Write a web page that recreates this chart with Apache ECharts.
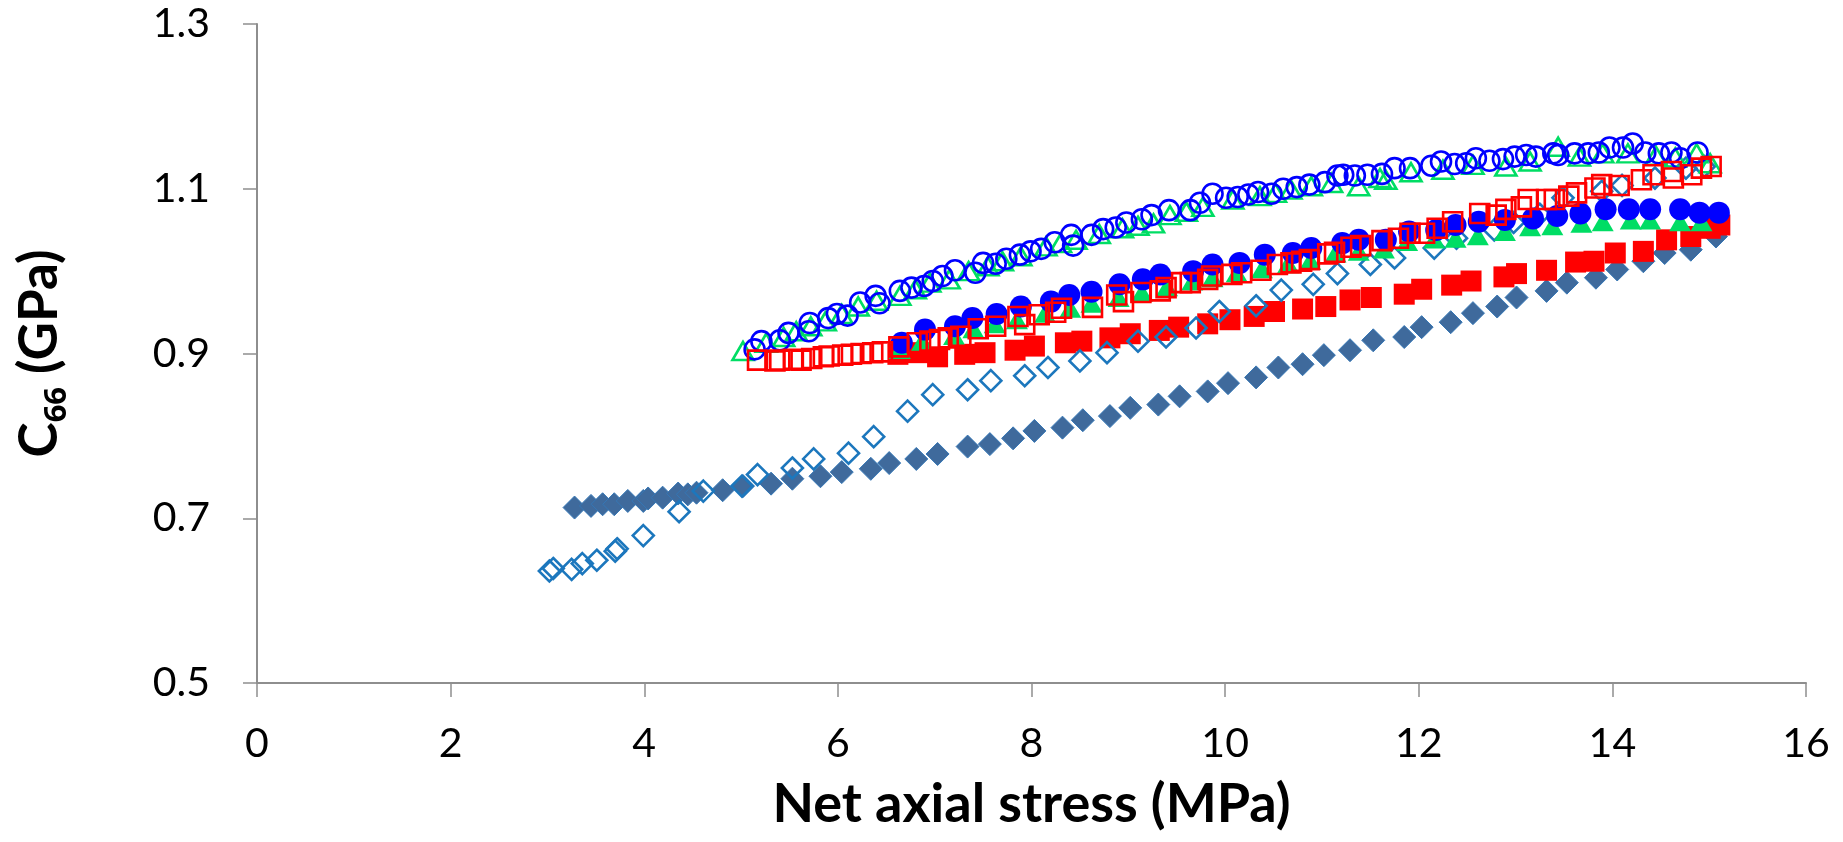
<!DOCTYPE html>
<html>
<head>
<meta charset="utf-8">
<script src="https://cdn.jsdelivr.net/npm/echarts@6/dist/echarts.min.js"></script>
<style>
  html, body { margin: 0; padding: 0; background: #ffffff; }
  #chart { width: 1843px; height: 842px; }
</style>
</head>
<body>
<div id="chart"></div>
<script>
// Axis ticks
const stressTicks = [0, 2, 4, 6, 8, 10, 12, 14, 16];
const c66Ticks = [0.5, 0.7, 0.9, 1.1, 1.3];

// Solid diamonds
const solidDiamondStress = [3.28, 3.45, 3.57, 3.69, 3.83, 3.99, 4.04, 4.19, 4.35, 4.45, 4.54, 4.81, 5.02, 5.31, 5.53, 5.82, 6.04, 6.34, 6.53, 6.81, 7.03, 7.34, 7.57, 7.81, 8.03, 8.32, 8.53, 8.81, 9.02, 9.31, 9.53, 9.82, 10.03, 10.32, 10.55, 10.80, 11.02, 11.29, 11.53, 11.85, 12.03, 12.33, 12.56, 12.81, 13.01, 13.32, 13.53, 13.83, 14.05, 14.32, 14.54, 14.81, 15.07];
const solidDiamondC66 = [0.713, 0.715, 0.717, 0.717, 0.721, 0.721, 0.724, 0.725, 0.730, 0.729, 0.731, 0.734, 0.739, 0.742, 0.748, 0.751, 0.756, 0.760, 0.767, 0.772, 0.778, 0.787, 0.790, 0.797, 0.806, 0.810, 0.819, 0.824, 0.834, 0.838, 0.848, 0.854, 0.864, 0.871, 0.883, 0.887, 0.898, 0.904, 0.916, 0.920, 0.932, 0.938, 0.949, 0.957, 0.968, 0.976, 0.986, 0.992, 1.002, 1.012, 1.022, 1.026, 1.042];

// Open diamonds
const openDiamondStress = [3.02, 3.06, 3.25, 3.36, 3.51, 3.70, 3.72, 3.99, 4.36, 4.61, 5.01, 5.17, 5.53, 5.75, 6.11, 6.37, 6.72, 6.98, 7.34, 7.58, 7.93, 8.17, 8.50, 8.78, 9.10, 9.39, 9.70, 9.94, 10.32, 10.58, 10.91, 11.16, 11.50, 11.75, 12.16, 12.39, 12.78, 12.98, 13.25, 13.49, 13.89, 14.10, 14.44, 14.76, 14.95];
const openDiamondC66 = [0.636, 0.639, 0.638, 0.645, 0.649, 0.660, 0.663, 0.679, 0.708, 0.733, 0.739, 0.753, 0.761, 0.772, 0.779, 0.799, 0.830, 0.850, 0.856, 0.867, 0.873, 0.883, 0.891, 0.901, 0.915, 0.920, 0.931, 0.951, 0.958, 0.977, 0.984, 0.997, 1.008, 1.016, 1.028, 1.040, 1.050, 1.059, 1.069, 1.089, 1.097, 1.104, 1.113, 1.125, 1.127];

// Solid squares
const solidSquareStress = [6.62, 6.83, 7.03, 7.31, 7.52, 7.83, 8.03, 8.35, 8.52, 8.81, 9.02, 9.32, 9.52, 9.82, 10.05, 10.30, 10.51, 10.80, 11.04, 11.29, 11.51, 11.85, 12.03, 12.34, 12.54, 12.88, 13.01, 13.32, 13.62, 13.81, 14.03, 14.32, 14.56, 14.81, 15.01, 15.11];
const solidSquareC66 = [0.899, 0.901, 0.896, 0.899, 0.901, 0.904, 0.909, 0.913, 0.915, 0.919, 0.924, 0.928, 0.932, 0.936, 0.941, 0.945, 0.951, 0.954, 0.957, 0.965, 0.968, 0.972, 0.978, 0.983, 0.988, 0.993, 0.997, 1.001, 1.011, 1.012, 1.022, 1.024, 1.038, 1.042, 1.052, 1.056];

// Open squares
const openSquareStress = [5.17, 5.35, 5.40, 5.54, 5.62, 5.73, 5.85, 5.91, 6.05, 6.14, 6.24, 6.36, 6.46, 6.63, 6.82, 6.95, 7.05, 7.14, 7.27, 7.45, 7.63, 7.86, 7.93, 8.08, 8.25, 8.31, 8.63, 8.88, 8.95, 9.13, 9.33, 9.39, 9.55, 9.64, 9.82, 9.86, 10.07, 10.17, 10.37, 10.54, 10.68, 10.79, 10.87, 11.06, 11.13, 11.30, 11.40, 11.62, 11.79, 11.91, 12.06, 12.19, 12.35, 12.63, 12.80, 12.90, 13.06, 13.13, 13.32, 13.40, 13.55, 13.63, 13.82, 13.89, 14.07, 14.30, 14.42, 14.61, 14.63, 14.82, 14.92, 15.02];
const openSquareC66 = [0.892, 0.891, 0.892, 0.893, 0.892, 0.894, 0.896, 0.897, 0.898, 0.899, 0.900, 0.901, 0.902, 0.908, 0.913, 0.915, 0.917, 0.919, 0.921, 0.930, 0.933, 0.945, 0.935, 0.947, 0.950, 0.955, 0.956, 0.971, 0.963, 0.974, 0.976, 0.980, 0.986, 0.986, 0.990, 0.994, 0.996, 0.998, 1.001, 1.008, 1.010, 1.012, 1.014, 1.021, 1.023, 1.029, 1.031, 1.037, 1.040, 1.046, 1.046, 1.052, 1.060, 1.070, 1.068, 1.075, 1.078, 1.087, 1.087, 1.087, 1.091, 1.095, 1.101, 1.105, 1.104, 1.111, 1.117, 1.121, 1.113, 1.117, 1.125, 1.127];

// Solid circles
const solidCircleStress = [6.66, 6.90, 7.21, 7.39, 7.64, 7.89, 8.20, 8.39, 8.62, 8.91, 9.15, 9.33, 9.67, 9.87, 10.15, 10.41, 10.70, 10.89, 11.21, 11.38, 11.66, 11.90, 12.18, 12.38, 12.62, 12.89, 13.18, 13.43, 13.67, 13.93, 14.17, 14.39, 14.70, 14.90, 15.10];
const solidCircleC66 = [0.913, 0.929, 0.933, 0.943, 0.948, 0.957, 0.963, 0.971, 0.975, 0.984, 0.990, 0.996, 1.000, 1.008, 1.010, 1.020, 1.022, 1.028, 1.034, 1.038, 1.038, 1.048, 1.050, 1.056, 1.060, 1.062, 1.064, 1.067, 1.070, 1.075, 1.075, 1.075, 1.075, 1.071, 1.071];

// Open circles
const openCircleStress = [5.14, 5.21, 5.40, 5.49, 5.70, 5.71, 5.90, 5.99, 6.10, 6.23, 6.39, 6.43, 6.64, 6.76, 6.89, 6.98, 7.08, 7.21, 7.42, 7.50, 7.63, 7.74, 7.88, 7.99, 8.10, 8.24, 8.41, 8.43, 8.62, 8.74, 8.87, 8.98, 9.14, 9.24, 9.42, 9.64, 9.74, 9.87, 10.01, 10.13, 10.24, 10.34, 10.48, 10.60, 10.74, 10.87, 11.03, 11.16, 11.22, 11.34, 11.47, 11.62, 11.75, 11.91, 12.13, 12.23, 12.37, 12.49, 12.59, 12.73, 12.87, 12.99, 13.11, 13.21, 13.39, 13.44, 13.61, 13.75, 13.86, 13.97, 14.11, 14.21, 14.34, 14.48, 14.61, 14.70, 14.88];
const openCircleC66 = [0.905, 0.915, 0.916, 0.925, 0.927, 0.937, 0.943, 0.948, 0.946, 0.962, 0.970, 0.961, 0.976, 0.980, 0.982, 0.988, 0.994, 1.001, 0.998, 1.010, 1.009, 1.015, 1.020, 1.024, 1.027, 1.035, 1.044, 1.031, 1.044, 1.051, 1.053, 1.059, 1.063, 1.068, 1.074, 1.074, 1.083, 1.094, 1.089, 1.090, 1.093, 1.096, 1.094, 1.100, 1.102, 1.105, 1.108, 1.116, 1.117, 1.116, 1.117, 1.118, 1.125, 1.125, 1.128, 1.133, 1.130, 1.131, 1.137, 1.134, 1.136, 1.139, 1.141, 1.139, 1.143, 1.141, 1.143, 1.143, 1.144, 1.150, 1.150, 1.155, 1.144, 1.143, 1.144, 1.137, 1.144];

// Solid triangles
const solidTriangleStress = [6.64, 6.87, 7.20, 7.40, 7.62, 7.85, 8.14, 8.40, 8.62, 8.90, 9.14, 9.40, 9.66, 9.87, 10.12, 10.38, 10.65, 10.88, 11.14, 11.38, 11.64, 11.88, 12.16, 12.38, 12.61, 12.89, 13.15, 13.38, 13.68, 13.90, 14.19, 14.39, 14.70, 14.92];
const solidTriangleC66 = [0.905, 0.915, 0.922, 0.930, 0.936, 0.941, 0.949, 0.955, 0.961, 0.968, 0.974, 0.981, 0.988, 0.992, 0.998, 1.003, 1.009, 1.013, 1.022, 1.024, 1.027, 1.036, 1.039, 1.040, 1.043, 1.048, 1.054, 1.055, 1.058, 1.060, 1.062, 1.062, 1.060, 1.060];

// Open triangles
const openTriangleStress = [5.02, 5.26, 5.44, 5.57, 5.72, 5.87, 6.04, 6.21, 6.40, 6.64, 6.80, 6.95, 7.15, 7.35, 7.55, 7.70, 7.89, 8.15, 8.30, 8.46, 8.70, 8.94, 9.10, 9.26, 9.43, 9.60, 9.77, 10.08, 10.36, 10.52, 10.68, 10.89, 11.10, 11.38, 11.60, 11.66, 11.92, 12.25, 12.56, 12.90, 13.15, 13.44, 13.66, 13.90, 14.16, 14.45, 14.65, 14.87, 15.01];
const openTriangleC66 = [0.903, 0.913, 0.920, 0.927, 0.933, 0.939, 0.948, 0.957, 0.964, 0.970, 0.978, 0.986, 0.990, 1.000, 1.006, 1.012, 1.018, 1.030, 1.034, 1.038, 1.045, 1.052, 1.055, 1.058, 1.068, 1.072, 1.078, 1.087, 1.091, 1.095, 1.099, 1.103, 1.107, 1.103, 1.113, 1.111, 1.120, 1.123, 1.129, 1.127, 1.133, 1.151, 1.139, 1.143, 1.143, 1.140, 1.138, 1.143, 1.131];

function pairs(xs, ys) {
  return xs.map((x, i) => [x, ys[i]]);
}

const axisGrey = '#8e8e8e';
const NONE = 'rgba(0,0,0,0)';

function solid(name, symbol, size, color, xs, ys, border) {
  return {
    name, type: 'scatter', symbol, symbolSize: size,
    data: pairs(xs, ys),
    itemStyle: { color, borderColor: border || color, borderWidth: border ? 1 : 0, opacity: 1 },
    emphasis: { disabled: true }
  };
}
function hollow(name, symbol, size, color, xs, ys) {
  return {
    name, type: 'scatter', symbol, symbolSize: size,
    data: pairs(xs, ys),
    itemStyle: { color: NONE, borderColor: color, borderWidth: 2.6, opacity: 1 },
    emphasis: { disabled: true }
  };
}

const chart = echarts.init(document.getElementById('chart'), null, { renderer: 'canvas' });
chart.setOption({
  animation: false,
  backgroundColor: '#ffffff',
  grid: { left: 257, right: 37, top: 24, bottom: 159, containLabel: false },
  xAxis: {
    type: 'value', min: 0, max: 16, interval: 2,
    name: 'Net axial stress (MPa)',
    nameLocation: 'middle', nameGap: 95,
    nameTextStyle: { fontFamily: 'Lato', fontWeight: 'bold', fontStyle: 'normal', fontSize: 54, color: '#000' },
    axisLine: { show: true, lineStyle: { color: axisGrey, width: 2 } },
    axisTick: { show: true, inside: false, length: 14, customValues: stressTicks, lineStyle: { color: axisGrey, width: 1.5 } },
    axisLabel: { margin: 40, customValues: stressTicks, fontFamily: 'Lato', fontSize: 41, color: '#000' },
    splitLine: { show: false }
  },
  yAxis: {
    type: 'value', min: 0.5, max: 1.3,
    name: '{m|C}{s|66}{m| (GPa)}',
    nameLocation: 'middle', nameGap: 184, nameRotate: 90,
    nameTextStyle: {
      rich: {
        m: { fontFamily: 'Lato', fontWeight: 'bold', fontStyle: 'normal', fontSize: 53, color: '#000', lineHeight: 66, verticalAlign: 'middle' },
        s: { fontFamily: '"Open Sans", "Noto Sans", sans-serif', fontWeight: 'bold', fontStyle: 'normal', fontSize: 31, color: '#000', lineHeight: 33, verticalAlign: 'bottom' }
      }
    },
    axisLine: { show: true, lineStyle: { color: axisGrey, width: 2 } },
    axisTick: { show: true, inside: false, length: 14, customValues: c66Ticks, lineStyle: { color: axisGrey, width: 1.5 } },
    axisLabel: { margin: 47, customValues: c66Ticks, formatter: v => v.toFixed(1), fontFamily: 'Lato', fontSize: 41, color: '#000' },
    splitLine: { show: false }
  },
  series: [
    solid('solid diamonds', 'diamond', 23, '#3f6a9c', solidDiamondStress, solidDiamondC66, '#3577b6'),
    solid('solid squares', 'rect', 21, '#ff0000', solidSquareStress, solidSquareC66),
    hollow('open diamonds', 'diamond', 21, '#1c77bd', openDiamondStress, openDiamondC66),
    solid('solid triangles', 'triangle', [22, 19], '#00dd64', solidTriangleStress, solidTriangleC66),
    solid('solid circles', 'circle', 22, '#0000ff', solidCircleStress, solidCircleC66),
    hollow('open triangles', 'triangle', [21, 18], '#00dd64', openTriangleStress, openTriangleC66),
    hollow('open circles', 'circle', 20, '#0000ff', openCircleStress, openCircleC66),
    hollow('open squares', 'rect', 19, '#ff0000', openSquareStress, openSquareC66)
  ]
});
</script>
</body>
</html>
